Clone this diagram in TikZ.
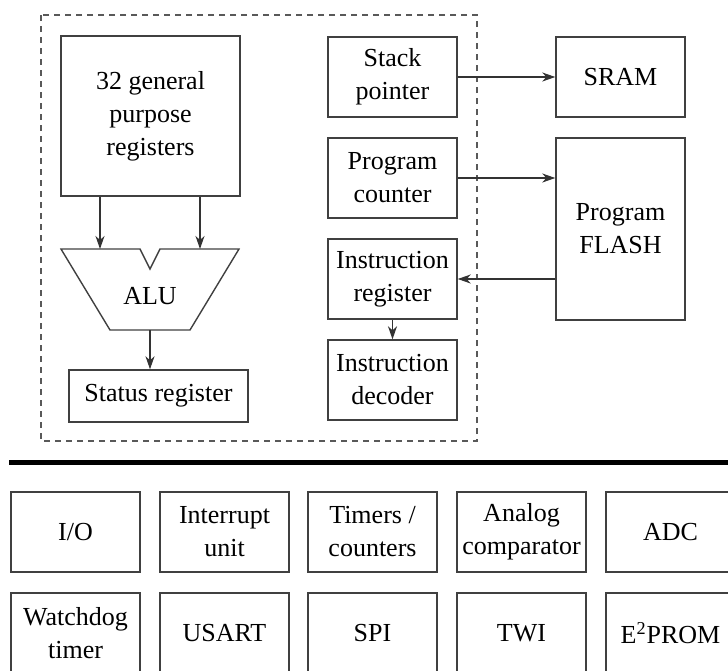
\documentclass[tikz,border=0pt]{standalone}
\usepackage{fontspec}
\setmainfont{Liberation Serif}
\usetikzlibrary{arrows.meta}
\tikzset{
  unit/.style={draw=black!75, line width=0.7pt, minimum width=64.5pt, minimum height=40pt, align=center, inner sep=1pt},
  link/.style={draw=black!80, line width=0.6pt, -{Stealth[length=6.5pt,width=4.5pt,inset=2pt]}},
}
\begin{document}
\begin{tikzpicture}[x=0.5pt,y=-0.5pt,font=\fontsize{13}{16.5}\selectfont]
  \useasboundingbox (0,0) rectangle (728,670);
  % core
  \draw[black!65, line width=0.8pt, dash pattern=on 3pt off 2.5pt] (41,15) rectangle (477,441);
  \node[unit, minimum width=89.5pt, minimum height=80pt] (regs) at (150.5,116) {32 general\\purpose\\registers};
  \node[unit] (sp) at (392.5,77) {Stack\\pointer};
  \node[unit] (sram) at (620.5,77) {SRAM};
  \node[unit] (pc) at (392.5,178) {Program\\counter};
  \node[unit, minimum height=91pt] (flash) at (620.5,229) {Program\\FLASH};
  \node[unit] (ir) at (392.5,279) {Instruction\\register};
  \node[unit] (id) at (392.5,380) {Instruction\\decoder};
  \node[unit, minimum width=89.5pt, minimum height=26pt] (status) at (158.5,396) {Status register};
  % ALU
  \draw[black!75, line width=0.7pt] (61,249) -- (140,249) -- (150,269) -- (160,249) -- (239,249) -- (190,330) -- (110,330) -- cycle;
  \node (alu) at (150,296) {ALU};
  \coordinate (alul) at (100,249);
  \coordinate (alur) at (200,249);
  \coordinate (alubot) at (150,330);
  \draw[link] (regs.south -| alul) -- (alul);
  \draw[link] (regs.south -| alur) -- (alur);
  \draw[link] (alubot) -- (alubot |- status.north);
  \draw[link] (sp) -- (sram);
  \draw[link] (pc.east) -- (pc.east -| flash.west);
  \draw[link] (flash.west |- ir.east) -- (ir.east);
  \draw[link] (ir) -- (id);
  % bus
  \draw[line width=2.5pt] (9,462) -- (728,462);
  % peripherals
  \foreach \name/\x/\txt in {io/75.5/{I/O}, intr/224.5/{Interrupt\\unit}, timers/372.5/{Timers /\\counters}, acomp/521.5/{Analog\\comparator}, adc/670.5/ADC}
    \node[unit] (\name) at (\x,532) {\txt};
  \foreach \name/\x/\txt in {wdt/75.5/{Watchdog\\timer}, usart/224.5/USART, spi/372.5/SPI, twi/521.5/TWI, eeprom/670.5/{E\textsuperscript{2}PROM}}
    \node[unit] (\name) at (\x,633) {\txt};
\end{tikzpicture}
\end{document}
